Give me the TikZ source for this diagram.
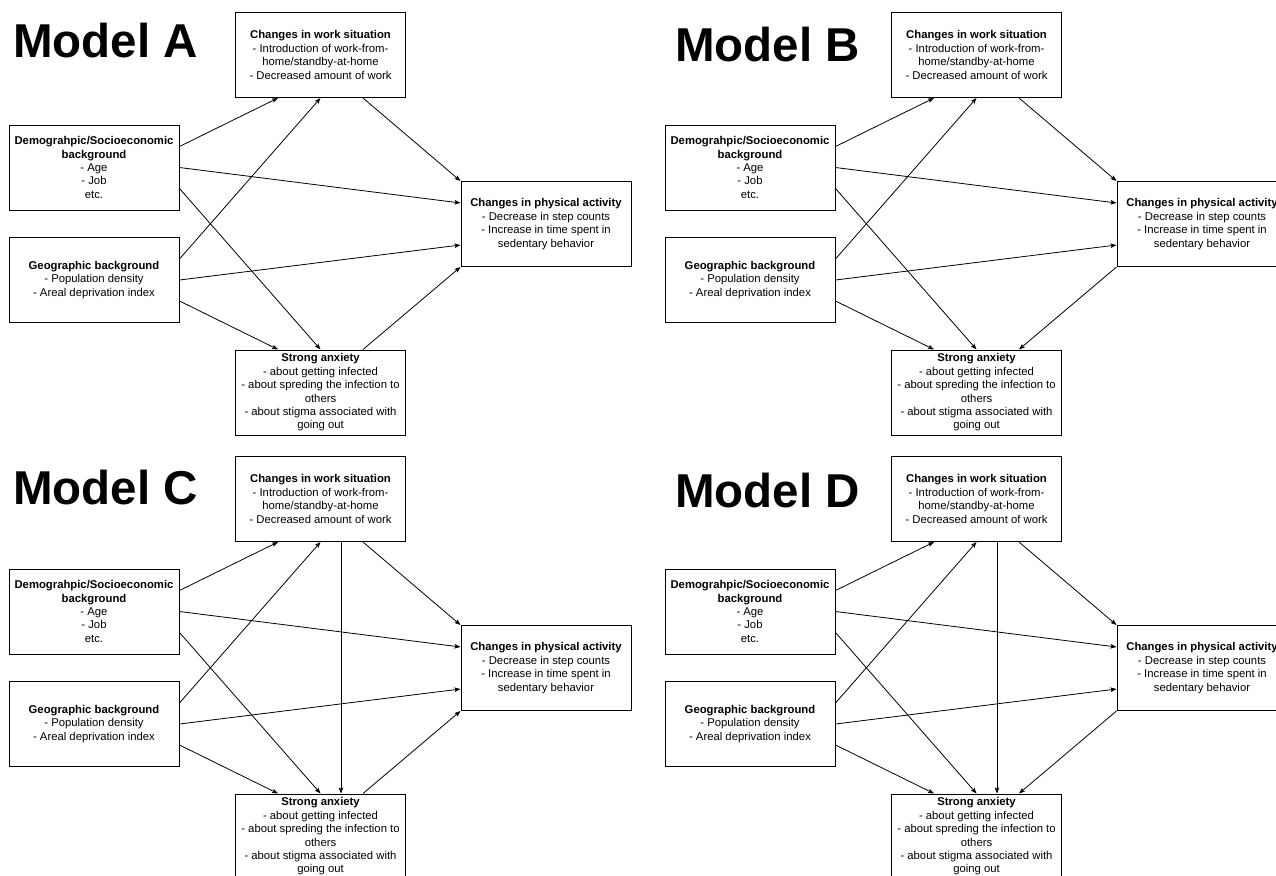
\documentclass[tikz,border=0pt]{standalone}
\usepackage{fontspec}
\setmainfont{Liberation Sans}
\usetikzlibrary{positioning, arrows.meta, calc}

\newcommand{\worktext}{\textbf{Changes in work situation}\\- Introduction of work-from-\\home/standby-at-home\\- Decreased amount of work}
\newcommand{\demotext}{\textbf{Demograhpic/Socioeconomic}\\\textbf{background}\\- Age\\- Job\\etc.}
\newcommand{\geotext}{\textbf{Geographic background}\\- Population density\\- Areal deprivation index}
\newcommand{\patext}{\textbf{Changes in physical activity}\\- Decrease in step counts\\- Increase in time spent in\\sedentary behavior}
\newcommand{\anxtext}{\textbf{Strong anxiety}\\- about getting infected\\- about spreding the infection to\\others\\- about stigma associated with\\going out}

\tikzset{
  >={Stealth[length=6pt,width=4.5pt,inset=1.2pt]},
  x=1pt, y=-1pt,
  box/.style={draw, line width=1pt, minimum width=170pt, minimum height=85pt,
    inner sep=0pt, align=center, font={\fontsize{11.3}{13.4}\selectfont}},
  title/.style={anchor=base west, inner sep=0pt, font={\fontsize{47.5}{48}\selectfont\bfseries}},
  link/.style={->, line width=0.8pt},
}

\begin{document}
\begin{tikzpicture}
  \useasboundingbox (0,0) rectangle (1276,875);
  \clip (0,0) rectangle (1276,875);

  % the four panels
  \foreach \m/\dx/\dy/\tx/\ty in {A/0/0/13/57.5, B/656/0/19/61.5, C/0/444/13/60.5, D/656/444/19/63.5}{
    \begin{scope}[shift={(\dx,\dy)}]
      \node[title]      (title\m) at (\tx,\ty)     {Model \m};
      \node[box]        (work\m)  at (320.5,55)    {\worktext};
      \node[box]        (demo\m)  at (94,167.5)    {\demotext};
      \node[box]        (geo\m)   at (94,280)      {\geotext};
      \node[box]        (pa\m)    at (546,224)     {\patext};
      \node[box]        (anx\m)   at (320.5,392.5) {\anxtext};

      \draw[link] ([yshift=21pt]demo\m.east)  -- ([xshift=-42.5pt]work\m.south);
      \draw[link] (demo\m.east)               -- ([yshift=21pt]pa\m.west);
      \draw[link] ([yshift=-21pt]demo\m.east) -- (anx\m.north);
      \draw[link] ([yshift=21pt]geo\m.east)   -- (work\m.south);
      \draw[link] (geo\m.east)                -- ([yshift=-21pt]pa\m.west);
      \draw[link] ([yshift=-21pt]geo\m.east)  -- ([xshift=-42.5pt]anx\m.north);
      \draw[link] ([xshift=42.5pt]work\m.south) -- (pa\m.north west);
    \end{scope}
  }

  % anxiety -> activity (A, C), activity -> anxiety (B, D)
  \foreach \m in {A,C}
    \draw[link] ([xshift=42.5pt]anx\m.north) -- (pa\m.south west);
  \foreach \m in {B,D}
    \draw[link] (pa\m.south west) -- ([xshift=42.5pt]anx\m.north);

  % work -> anxiety (C, D)
  \foreach \m in {C,D}
    \draw[link] ([xshift=20.5pt]work\m.south) -- ([xshift=20.5pt]anx\m.north);
\end{tikzpicture}
\end{document}
